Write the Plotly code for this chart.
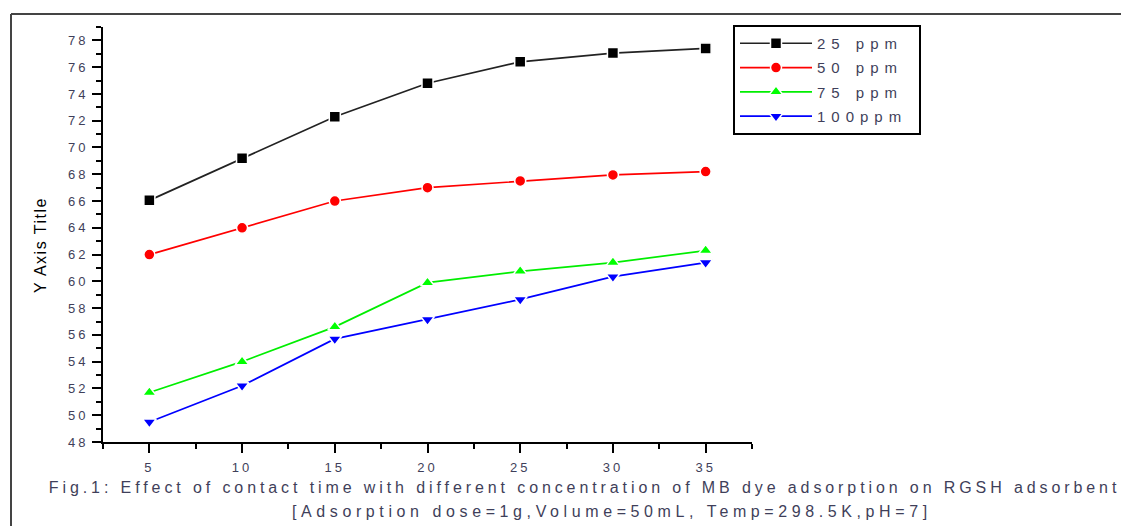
import plotly.graph_objects as go

time_min = [5, 10, 15, 20, 25, 30, 35]
ppm25 = [66.05, 69.2, 72.3, 74.8, 76.4, 77.05, 77.4]
ppm50 = [62.0, 64.0, 66.0, 67.0, 67.5, 67.95, 68.2]
ppm75 = [51.7, 54.0, 56.6, 59.9, 60.75, 61.4, 62.3]
ppm100 = [49.5, 52.2, 55.7, 57.15, 58.65, 60.35, 61.4]

series_names = ["25 ppm", "50 ppm", "75 ppm", "100ppm"]
series_values = [ppm25, ppm50, ppm75, ppm100]
line_colors = ["#222222", "#ff0000", "#00ee00", "#0000ff"]
marker_colors = ["#000000", "#ff0000", "#00ff00", "#0000ff"]
symbols = ["square", "circle", "triangle-up", "triangle-down"]
marker_sizes = [11, 11, 12, 12]

caption1 = "Fig.1: Effect of contact time with different concentration of MB dye adsorption on RGSH adsorbent"
caption2 = "[Adsorption dose=1g,Volume=50mL, Temp=298.5K,pH=7]"
y_title = "Y Axis Title"

W, H = 1121, 526
L, R, T, B = 103, 752, 27, 442  # plot area pixel bounds


def px(x):
    return (x - L) / (R - L)


def py(y):
    return (B - y) / (B - T)


TXT = "#3f3f5a"
FONT = "Liberation Sans, Arial, sans-serif"

fig = go.Figure()
for name, vals, lc, mc, sym, ms in zip(series_names, series_values, line_colors,
                                        marker_colors, symbols, marker_sizes):
    fig.add_trace(go.Scatter(
        x=time_min, y=vals, name=name, mode="lines+markers",
        legendgroup=name,
        line=dict(color=lc, width=1.7),
        marker=dict(symbol=sym, size=ms, color=mc, line=dict(color="white", width=1.5)),
    ))

axis_common = dict(
    showline=True, linecolor="black", linewidth=2, mirror=False,
    ticks="outside", tickcolor="black", tickwidth=2, ticklen=9,
    showgrid=False, zeroline=False,
    tickfont=dict(family=FONT, size=13, color=TXT),
)

fig.update_xaxes(range=[2.5, 37.5], tick0=5, dtick=5, ticklabelstandoff=3,
                 minor=dict(ticks="outside", dtick=2.5, tick0=2.5, ticklen=5,
                            tickwidth=1.5, tickcolor="black"),
                 **axis_common)
fig.update_yaxes(range=[48, 79], tick0=48, dtick=2, ticklabelstandoff=1,
                 minor=dict(ticks="outside", dtick=1, tick0=48, ticklen=5,
                            tickwidth=1.5, tickcolor="black"),
                 **axis_common)

fig.update_layout(
    width=W, height=H,
    margin=dict(l=L, r=W - R, t=T, b=H - B, autoexpand=False),
    paper_bgcolor="white", plot_bgcolor="white",
    showlegend=True,
    legend=dict(
        x=px(733), y=py(25), xanchor="left", yanchor="top",
        bgcolor="white", bordercolor="black", borderwidth=2,
        font=dict(family=FONT, size=15, color=TXT),
        tracegroupgap=1.8, itemwidth=72,
        traceorder="grouped",
    ),
    annotations=[
        dict(text=caption1, x=px(585), y=py(487), xref="paper", yref="paper",
             xanchor="center", yanchor="middle", showarrow=False,
             font=dict(family=FONT, size=16, color=TXT)),
        dict(text=caption2, x=px(612), y=py(511), xref="paper", yref="paper",
             xanchor="center", yanchor="middle", showarrow=False,
             font=dict(family=FONT, size=16, color=TXT)),
        dict(text=y_title, x=px(40), y=py(245), xref="paper", yref="paper",
             xanchor="center", yanchor="middle", showarrow=False, textangle=-90,
             font=dict(family=FONT, size=16, color="black")),
    ],
    shapes=[
        dict(type="line", xref="paper", yref="paper", x0=px(11), x1=px(1125),
             y0=py(14), y1=py(14), line=dict(color="#444444", width=2)),
        dict(type="line", xref="paper", yref="paper", x0=px(11), x1=px(11),
             y0=py(14), y1=py(530), line=dict(color="#444444", width=2)),
    ],
)

post = """
document.body.style.margin = '0';
document.body.style.padding = '0';
var gd = document.getElementById('{plot_id}');
function sp(){
  gd.querySelectorAll('text.annotation-text').forEach(function(t){
    var s = t.textContent;
    if (s.indexOf('Fig') === 0) t.style.letterSpacing = '3.9px';
    else if (s.indexOf('[') === 0) t.style.letterSpacing = '4.6px';
    else t.style.letterSpacing = '1.5px';
  });
  gd.querySelectorAll('g.xtick text, g.ytick text').forEach(function(t){
    t.style.letterSpacing = '3px';
  });
  gd.querySelectorAll('text.legendtext').forEach(function(t){
    t.style.letterSpacing = '6px';
  });
  gd.querySelectorAll('g.legend rect.bg').forEach(function(r){
    r.setAttribute('width', 186);
  });
  gd.querySelectorAll('g.legend g.scrollbox').forEach(function(g){
    g.removeAttribute('clip-path');
  });
}
sp();
if (gd.on) gd.on('plotly_afterplot', sp);
setTimeout(sp, 50);
"""

fig.write_html("out.html", post_script=post, config={"displayModeBar": False})
